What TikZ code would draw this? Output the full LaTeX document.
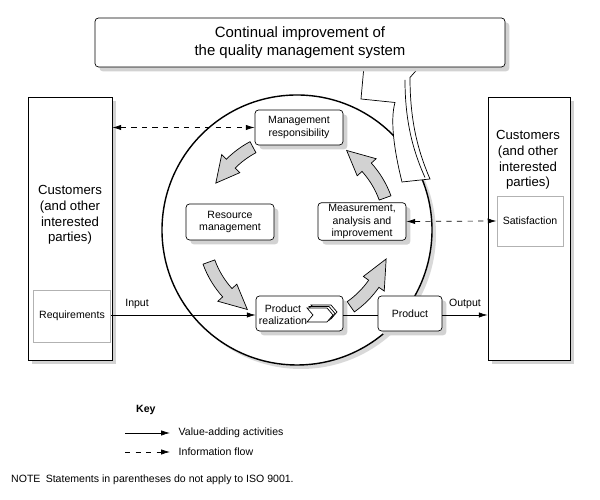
\documentclass[tikz,border=0pt]{standalone}
\usepackage{fontspec}
\setmainfont{Liberation Sans}
\usetikzlibrary{shadows,arrows.meta}
\tikzset{
  shd/.style={drop shadow={shadow xshift=2.5pt,shadow yshift=-2.5pt,fill=gray!35,opacity=1}},
  proc/.style={draw,rounded corners=2pt,fill=white,shd,align=center,font=\fontsize{6}{7}\selectfont,inner sep=1pt},
  plain/.style={draw,fill=white,align=center,font=\fontsize{6}{7}\selectfont},
  flow/.style={-{Latex[length=5pt,width=3pt]},thin},
  info/.style={{Latex[length=5pt,width=3pt]}-{Latex[length=5pt,width=3pt]},dashed,thin},
  cyc/.style={fill=gray!35,draw=black,thin}
}
\newcommand\cycarrow[3]{%
  \fill[cyc] (#1:2.0) arc[start angle=#1,end angle=#2,radius=2.0] -- (#2:2.13) -- (#3:1.875)
    -- (#2:1.62) -- (#2:1.75) arc[start angle=#2,end angle=#1,radius=1.75] -- cycle;}
\begin{document}
\begin{tikzpicture}
\useasboundingbox (0,0) rectangle (12,10);

% circle
\fill[gray!30] (6.02,5.32) circle (2.7);
\draw[thick,fill=white] (5.94,5.4) circle (2.7);
\begin{scope}[shift={(5.94,5.4)}]
  \cycarrow{118}{135}{150}
  \cycarrow{20}{42}{58}
  \cycarrow{200}{222}{238}
  \cycarrow{-55}{-35}{-18}
\end{scope}

% customers
\node[plain,shd,minimum width=1.68cm,minimum height=5.26cm] (custL) at (1.4,5.43) {};
\node[font=\fontsize{7.5}{9}\selectfont,align=center] (custLt) at (1.4,5.7) {Customers\\(and other\\interested\\parties)};
\node[plain,draw=gray!60,minimum width=1.28cm,minimum height=1.04cm] (req) at (1.44,3.68) {Requirements};
\node[plain,shd,minimum width=1.64cm,minimum height=5.26cm] (custR) at (10.58,5.43) {};
\node[font=\fontsize{7.5}{9}\selectfont,align=center] (custRt) at (10.56,6.8) {Customers\\(and other\\interested\\parties)};
\node[plain,draw=gray!60,minimum width=1.28cm,minimum height=1.0cm] (sat) at (10.6,5.58) {Satisfaction};

% processes
\node[proc,minimum width=1.76cm,minimum height=0.7cm] (mgmt) at (5.98,7.45) {Management\\responsibility};
\node[proc,minimum width=1.76cm,minimum height=0.72cm] (res) at (4.6,5.56) {Resource\\management};
\node[proc,minimum width=1.76cm,minimum height=0.74cm] (meas) at (7.24,5.57) {Measurement,\\analysis and\\improvement};
\node[proc,minimum width=1.74cm,minimum height=0.7cm] (real) at (5.99,3.73) {};
\node[font=\fontsize{6}{7}\selectfont,align=center] (realt) at (5.66,3.7) {Product\\realization};
\foreach \dx/\dy in {0.08/0.06,0.04/0.03,0/0}
  \draw[fill=white] (6.14+\dx,3.56+\dy) -- ++(0.4,0) -- ++(0.12,0.14) -- ++(-0.12,0.14) -- ++(-0.4,0) -- ++(0.12,-0.14) -- cycle;
\node[proc,minimum width=1.28cm,minimum height=0.7cm] (prod) at (8.2,3.73) {Product};

% connectors
\draw[flow] (req.east |- 0,3.7) -- node[above,pos=0.18,font=\fontsize{6}{7}\selectfont] {Input} (real.west |- 0,3.7);
\draw (real.east |- 0,3.7) -- (prod.west |- 0,3.7);
\draw[flow] (prod.east |- 0,3.7) -- node[above,font=\fontsize{6}{7}\selectfont] {Output} (custR.west |- 0,3.7);
\draw[info] (custL.east |- mgmt) -- (mgmt.west);
\draw[info] (meas.east) -- (sat.west);

% improvement arrow
\draw[fill=white] (8.04,6.36) .. controls (7.88,7.0) and (7.8,7.6) .. (7.9,7.95) -- (7.22,8.02)
  -- (7.3,8.9) -- (8.6,8.9) -- (8.2,8.45)
  .. controls (8.2,7.6) and (8.35,7.0) .. (8.6,6.42) -- cycle;
\draw (8.1,8.4) .. controls (8.1,7.6) and (8.25,7.0) .. (8.5,6.45);
\node[proc,minimum width=8.2cm,minimum height=0.98cm,font=\fontsize{8.5}{10.5}\selectfont] (cont) at (6.0,9.15) {Continual improvement of\\the quality management system};

% key
\node[font=\bfseries\fontsize{6}{7}\selectfont,anchor=west] (key) at (2.6,1.8) {Key};
\coordinate (k1a) at (2.5,1.34); \coordinate (k1b) at (3.4,1.34);
\coordinate (k2a) at (2.5,0.96); \coordinate (k2b) at (3.4,0.96);
\draw[flow] (k1a) -- (k1b);
\draw[-{Latex[length=5pt,width=3pt]},dashed,thin] (k2a) -- (k2b);
\node[anchor=west,font=\fontsize{6}{7}\selectfont] (kv) at (3.45,1.34) {Value-adding activities};
\node[anchor=west,font=\fontsize{6}{7}\selectfont] (ki) at (3.45,0.96) {Information flow};
\node[anchor=west,font=\fontsize{6}{7}\selectfont] (note) at (0.1,0.4) {NOTE\enspace Statements in parentheses do not apply to ISO 9001.};
\end{tikzpicture}
\end{document}
